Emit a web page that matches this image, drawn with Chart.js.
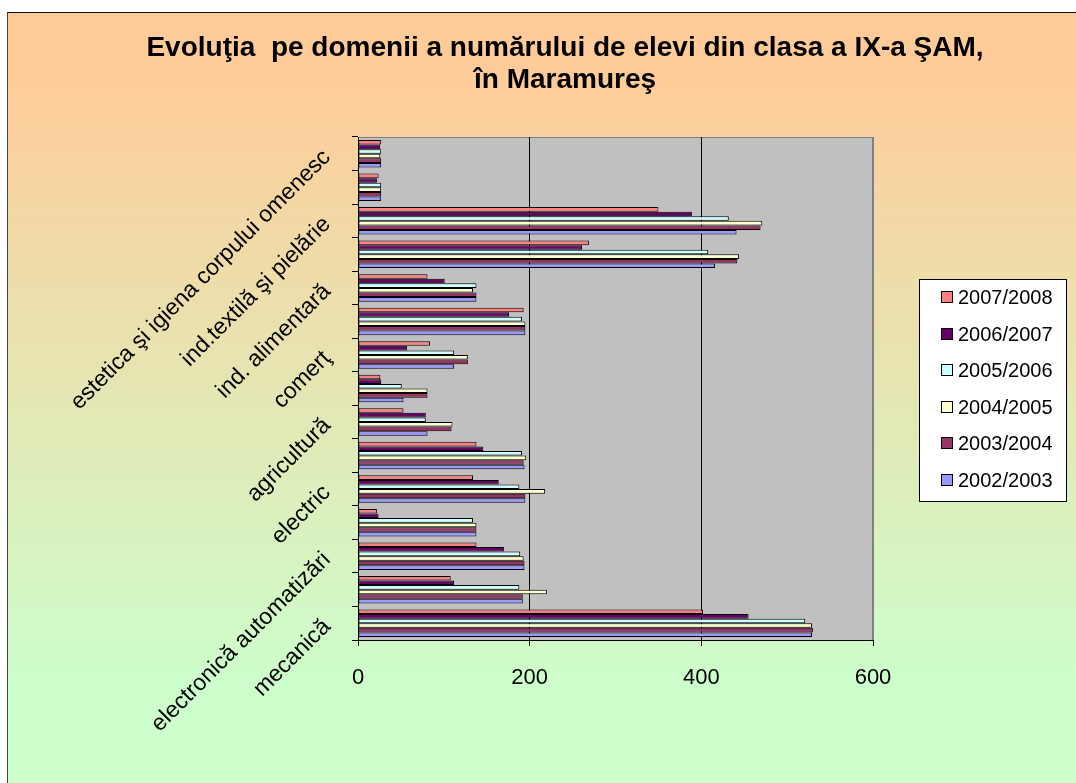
<!DOCTYPE html>
<html>
<head>
<meta charset="utf-8">
<script src="https://cdn.jsdelivr.net/npm/chart.js@4.4.0/dist/chart.umd.min.js"></script>
<style>
  html, body { margin: 0; padding: 0; background: #fff; }
  #frame {
    position: absolute; left: 7px; top: 12px; width: 1069px; height: 771px;
    box-sizing: border-box;
    border-left: 1px solid #444; border-top: 1px solid #111;
    background: linear-gradient(to bottom, #ffcc99 0%, #ffcc99 8%, #ccffcc 88%);
  }
  canvas { display: block; }
</style>
</head>
<body>
<div id="frame"><canvas id="chart" width="1068" height="770"></canvas></div>
<script>
// categories from bottom (index 0) to top; only every other one is labelled
const domenii = [
  'mecanică',
  'electromecanică',
  'electronică automatizări',
  'construcţii, instalaţii şi lucrări publice',
  'electric',
  'materiale de construcţii',
  'agricultură',
  'silvicultură',
  'comerţ',
  'turism şi alimentaţie',
  'ind. alimentară',
  'fabricarea produselor din lemn',
  'ind.textilă şi pielărie',
  'chimie industrială',
  'estetica şi igiena corpului omenesc'
];

const an2007_2008 = [402, 108, 138, 22, 134, 138, 53, 26, 84, 193, 81, 269, 350, 24, 27];
const an2006_2007 = [455, 112, 170, 24, 164, 146, 79, 27, 57, 176, 101, 261, 389, 22, 26];
const an2005_2006 = [521, 188, 189, 134, 188, 191, 79, 51, 112, 191, 138, 408, 432, 27, 27];
const an2004_2005 = [529, 220, 193, 138, 218, 196, 110, 81, 128, 195, 134, 444, 471, 27, 26];
const an2003_2004 = [530, 192, 194, 138, 195, 193, 109, 81, 128, 195, 138, 442, 469, 27, 27];
const an2002_2003 = [529, 192, 194, 138, 195, 194, 81, 53, 112, 195, 138, 416, 441, 27, 27];

const xTicks = [0, 200, 400, 600];

const FONT = '"Liberation Sans", Arial, sans-serif';
Chart.defaults.font.family = FONT;
Chart.defaults.color = '#000';

const serie = (label, data, color) => ({
  label: label,
  data: data,
  backgroundColor: color,
  borderColor: '#000',
  borderWidth: 1,
  borderSkipped: false,
  barPercentage: 1,
  categoryPercentage: 0.82
});

// grey plot area with thin border, like the Excel original
const plotBg = {
  id: 'plotBg',
  beforeDraw(chart) {
    const {ctx, chartArea: a} = chart;
    ctx.save();
    ctx.fillStyle = '#c0c0c0';
    ctx.fillRect(a.left, a.top, a.right - a.left, a.bottom - a.top);
    ctx.strokeStyle = '#808080';
    ctx.lineWidth = 1;
    ctx.strokeRect(a.left + 0.5, a.top + 0.5, a.right - a.left - 1, a.bottom - a.top);
    ctx.restore();
  }
};

// boxed legend on the right
const boxLegend = {
  id: 'boxLegend',
  afterDraw(chart) {
    const ctx = chart.ctx;
    ctx.save();
    ctx.fillStyle = '#fff';
    ctx.strokeStyle = '#000';
    ctx.lineWidth = 1;
    ctx.fillRect(911, 266, 147, 222);
    ctx.strokeRect(911.5, 266.5, 147, 222);
    ctx.font = '20px ' + FONT;
    ctx.textBaseline = 'middle';
    chart.data.datasets.forEach((ds, i) => {
      const y = Math.round(284 + i * 36.5);
      ctx.fillStyle = ds.backgroundColor;
      ctx.fillRect(934, y - 5, 10, 10);
      ctx.strokeRect(933.5, y - 5.5, 11, 11);
      ctx.fillStyle = '#000';
      ctx.fillText(ds.label, 950, y + 1);
    });
    ctx.restore();
  }
};

new Chart(document.getElementById('chart'), {
  type: 'bar',
  data: {
    labels: domenii,
    datasets: [
      serie('2007/2008', an2007_2008, '#ff8080'),
      serie('2006/2007', an2006_2007, '#660066'),
      serie('2005/2006', an2005_2006, '#ccffff'),
      serie('2004/2005', an2004_2005, '#ffffcc'),
      serie('2003/2004', an2003_2004, '#993366'),
      serie('2002/2003', an2002_2003, '#9999ff')
    ]
  },
  options: {
    indexAxis: 'y',
    responsive: false,
    animation: false,
    layout: { padding: { left: 46, right: 0, top: 0, bottom: 0 } },
    plugins: {
      legend: { display: false },
      tooltip: { enabled: false },
      title: {
        display: true,
        text: ['Evoluţia  pe domenii a numărului de elevi din clasa a IX-a ŞAM,', 'în Maramureş'],
        font: { size: 28, weight: 'bold', lineHeight: 32 / 28 },
        color: '#000',
        padding: { top: 19, bottom: 41 }
      }
    },
    scales: {
      x: {
        min: 0,
        max: 600,
        afterFit(s) { s.height = 143; },
        afterBuildTicks(s) { s.ticks = xTicks.map(v => ({ value: v })); },
        grid: {
          color: (c) => (c.tick && c.tick.value === 600 ? '#808080' : '#000'),
          tickColor: '#000',
          tickLength: 6
        },
        border: { color: '#000', width: 1 },
        ticks: { font: { size: 22 }, padding: 19, color: '#000' }
      },
      y: {
        reverse: true,
        afterFit(s) { s.width = 304; },
        grid: { drawOnChartArea: false, color: '#000', tickLength: 6, offset: true },
        border: { color: '#000', width: 1 },
        ticks: {
          autoSkip: false,
          minRotation: 45,
          maxRotation: 45,
          padding: 25,
          labelOffset: 0,
          color: '#000',
          font: { size: 23 },
          callback(value, index) {
            return index % 2 === 0 ? this.getLabelForValue(value) : '';
          }
        }
      },
      // empty axis that only keeps room for the legend on the right
      spacer: {
        type: 'linear',
        axis: 'y',
        position: 'right',
        afterFit(s) { s.width = 203; },
        grid: { display: false },
        border: { display: false },
        ticks: { display: false }
      }
    }
  },
  plugins: [plotBg, boxLegend]
});
</script>
</body>
</html>
